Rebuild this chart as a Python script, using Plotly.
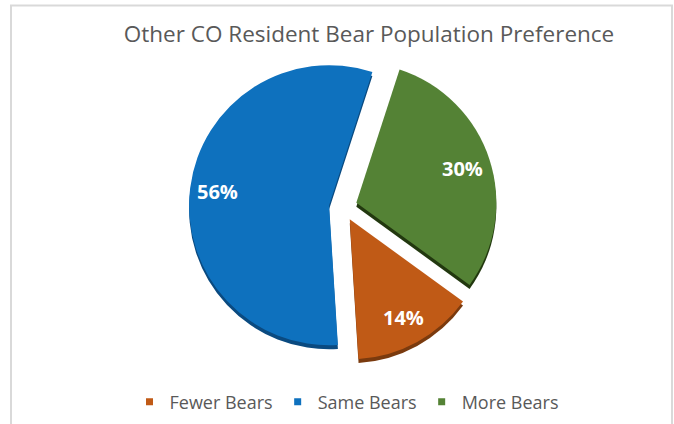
import math
import plotly.graph_objects as go

categories = ["Fewer Bears", "Same Bears", "More Bears"]
values = [14, 56, 30]
colors = ["#C05A16", "#0E71BE", "#548235"]
shadow_colors = ["#7A3A0E", "#0A4A80", "#22380F"]
title_text = "Other CO Resident Bear Population Preference"

W, H = 674, 424
cx, cy, R = 343, 207, 140
PULL = 0.1
ROT = 126
half = R * (1 + PULL)
dom_x = [(cx - half) / W, (cx + half) / W]
dom_y = [1 - (cy + half) / H, 1 - (cy - half) / H]
sh = 4 / H

fig = go.Figure()
# shadow (bevel) pie
fig.add_trace(go.Pie(
    labels=categories, values=values, sort=False, direction="clockwise",
    rotation=ROT, pull=[PULL] * len(values),
    marker=dict(colors=shadow_colors, line=dict(width=0)),
    textinfo="none", hoverinfo="skip", showlegend=False,
    domain=dict(x=dom_x, y=[dom_y[0] - sh, dom_y[1] - sh]),
))
fig.add_trace(go.Pie(
    labels=categories, values=values, sort=False, direction="clockwise",
    rotation=ROT, pull=[PULL] * len(values),
    marker=dict(colors=colors, line=dict(width=0)),
    textinfo="none", showlegend=False,
    domain=dict(x=dom_x, y=dom_y),
))
for c, col in zip(categories, colors):
    fig.add_trace(go.Scatter(
        x=[None], y=[None], mode="markers", name=c,
        marker=dict(symbol="square", size=7, color=col),
    ))

# data labels placed along each slice's mid-angle (derived from values)
total = sum(values)
annotations = []
start = ROT
for v in values:
    span = 360 * v / total
    mid = math.radians(start + span / 2)
    start += span
    tipx = cx + PULL * R * math.sin(mid)
    tipy = cy - PULL * R * math.cos(mid)
    lx = tipx + 0.8 * R * math.sin(mid)
    ly = tipy - 0.8 * R * math.cos(mid)
    annotations.append(dict(
        x=lx / W, y=1 - ly / H, xref="paper", yref="paper",
        xanchor="center", yanchor="middle",
        text=f"{round(100 * v / total)}%", showarrow=False,
        font=dict(family="Open Sans", size=20, color="white", weight="bold"),
    ))

fig.update_layout(
    width=W, height=H,
    margin=dict(l=0, r=0, t=0, b=0),
    paper_bgcolor="white", plot_bgcolor="white",
    xaxis=dict(visible=False), yaxis=dict(visible=False),
    title=dict(text=title_text, x=369 / W, xanchor="center",
               y=1 - 34 / H, yanchor="middle", yref="container",
               font=dict(family="Open Sans", size=22.5, color="#595959")),
    legend=dict(orientation="h", x=347 / W, xanchor="center",
                y=1 - 402 / H, yanchor="middle",
                font=dict(family="Open Sans", size=18, color="#595959"),
                bgcolor="rgba(0,0,0,0)", itemwidth=30),
    annotations=annotations,
    shapes=[dict(type="rect", xref="paper", yref="paper",
                 x0=11 / W, x1=672 / W, y0=-0.1, y1=1 - 5.5 / H,
                 line=dict(color="#D9D9D9", width=2), layer="below")],
)
fig.write_html("out.html", config={"displayModeBar": False},
               post_script="document.body.style.margin='0';")
